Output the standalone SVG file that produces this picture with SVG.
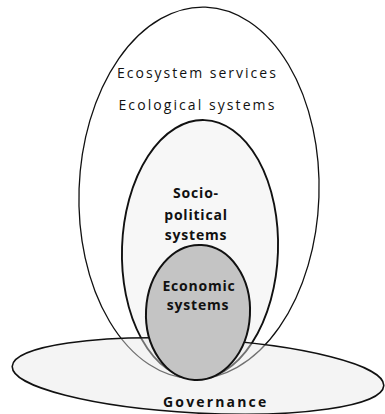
<svg xmlns="http://www.w3.org/2000/svg" width="385" height="414" viewBox="0 0 385 414">
  <style>
    .ring { stroke: #111; }
    .lbl { font-family: "Open Sans", "Liberation Sans", sans-serif; fill: #111; text-anchor: middle; }
    .reg { font-size: 14px; letter-spacing: 1.2px; }
    .bold { font-size: 14px; font-weight: bold; letter-spacing: 0.8px; }
  </style>
  <rect width="385" height="414" fill="#ffffff"/>
  <g id="ecosystem-services">
    <ellipse class="ring" cx="199" cy="193" rx="120" ry="186" transform="rotate(2 199 193)" fill="none" stroke-width="1.3"/>
    <text class="lbl reg" x="197" y="78" textLength="160" lengthAdjust="spacing">Ecosystem services</text>
  </g>
  <g id="ecological-systems">
    <text class="lbl reg" x="197" y="110" textLength="157" lengthAdjust="spacing">Ecological systems</text>
  </g>
  <g id="socio-political-systems">
    <ellipse class="ring" cx="200" cy="249.5" rx="78" ry="129.5" transform="rotate(2 200 249.5)" fill="#f2f2f2" fill-opacity="0.6" stroke-width="1.9"/>
    <text class="lbl bold" x="196" y="198">Socio-</text>
    <text class="lbl bold" x="196" y="220">political</text>
    <text class="lbl bold" x="196" y="240">systems</text>
  </g>
  <g id="governance">
    <ellipse class="ring" cx="198" cy="376" rx="186" ry="37" transform="rotate(3 198 376)" fill="#e6e6e6" fill-opacity="0.45" stroke-width="1.6"/>
    <text class="lbl bold" x="215" y="407" textLength="104" lengthAdjust="spacing">Governance</text>
  </g>
  <g id="economic-systems">
    <ellipse class="ring" cx="198" cy="312.5" rx="52" ry="67.5" transform="rotate(3 198 312.5)" fill="#c4c4c4" stroke-width="2"/>
    <text class="lbl bold" x="199" y="291">Economic</text>
    <text class="lbl bold" x="198" y="310">systems</text>
  </g>
</svg>
